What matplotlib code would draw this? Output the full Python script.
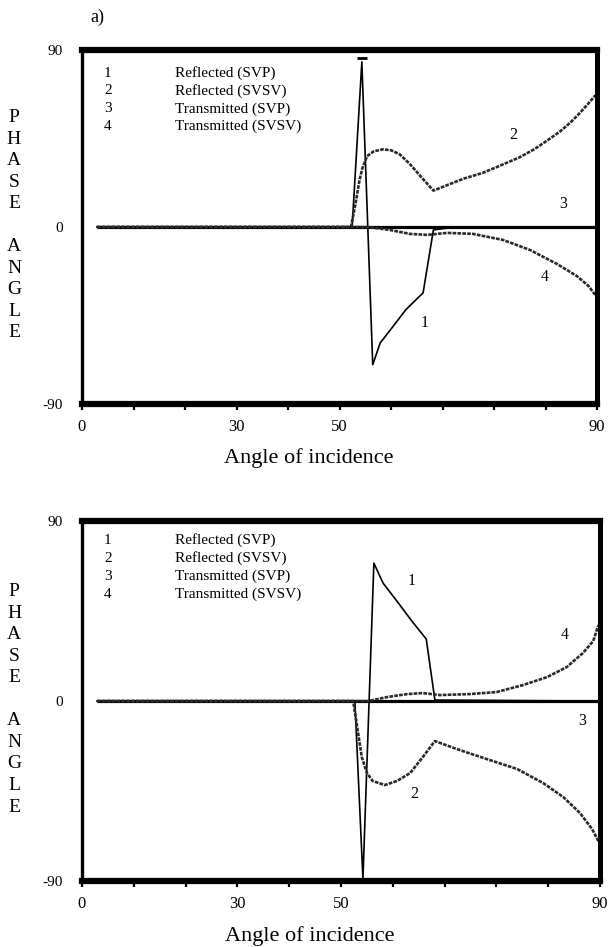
import numpy as np
import matplotlib
matplotlib.use('Agg')
import matplotlib.pyplot as plt

plt.rcParams['font.family'] = ['Liberation Serif', 'DejaVu Serif']

# angle of incidence (deg) vs phase angle (deg)
# --- panel a) ---
a_rsvp_x = [2.6, 47.2, 48.9, 50.8, 52.1, 54.5, 56.6, 59.6, 61.4, 64.0, 90.0]
a_rsvp_y = [0, 0, 84, -70, -59, -50, -42, -33.5, -1.5, -0.5, 0]

a_rsvsv_x = [2.6, 47.0, 47.8, 48.5, 49.0, 49.8, 51.0, 52.6, 54.0, 55.5, 57.3, 59.4, 61.4,
             64.0, 66.6, 70.0, 72.5, 76.5, 79.0, 81.3, 83.5, 85.3, 87.0, 88.4, 89.7]
a_rsvsv_y = [0, 0, 12, 24, 30, 36, 38.5, 39.5, 39, 37, 32, 25, 18.5,
             21.5, 24.5, 27.5, 30.5, 35.5, 39.5, 44, 48.5, 53, 58, 62.5, 67]

a_tsvp_x = [2.6, 90.0]
a_tsvp_y = [0, 0]

a_tsvsv_x = [2.6, 50.0, 53.8, 57.3, 60.3, 63.8, 68.3, 73.6, 78.3, 83.0, 86.5, 88.5, 89.8]
a_tsvsv_y = [0, 0, -1.5, -3.5, -4, -3, -3.5, -6.6, -11.7, -18.8, -25, -30, -35]

# --- lower panel ---
b_rsvp_x = [2.6, 47.4, 48.8, 50.7, 52.3, 54.7, 57.3, 59.8, 61.3, 90.0]
b_rsvp_y = [0, 0, -89, 69, 59, 50, 40, 31, 0.5, 0]

b_rsvsv_x = [2.6, 47.1, 47.8, 48.6, 49.5, 50.5, 52.6, 54.7, 57.0, 59.2, 61.3,
             65.1, 70.3, 75.6, 80.1, 83.6, 86.5, 88.6, 89.7]
b_rsvsv_y = [0, 0, -13, -28, -36, -40, -42, -40, -36, -28, -20,
             -24, -29, -34, -41, -48, -56, -64, -70]

b_tsvp_x = [2.6, 90.0]
b_tsvp_y = [0, 0]

b_tsvsv_x = [2.6, 49.7, 53.0, 56.5, 59.2, 62.2, 67.4, 72.0, 76.6, 80.8, 84.2, 87.0, 88.8, 89.7]
b_tsvsv_y = [0, 0, 2, 3.5, 4, 3, 3.5, 4.5, 8, 12, 17, 24, 30, 38]

legend_num = ['1', '2', '3', '4']
legend_txt = ['Reflected (SVP)', 'Reflected (SVSV)', 'Transmitted (SVP)', 'Transmitted (SVSV)']

# x tick labels as printed in the source figure
xtick_pos = [0, 9, 18, 27, 36, 45, 54, 63, 72, 81, 90]
xtick_txt = ['0', '', '', '30', '', '50', '', '', '', '', '90']

# curve numbers placed next to the curves (x, y)
a_marks = {'1': (59.8, -49), '2': (75.3, 47), '3': (84.1, 11.7), '4': (80.8, -25.4)}
b_marks = {'1': (57.3, 60), '2': (57.8, -46.7), '3': (86.9, -10), '4': (83.9, 32.8)}

dots = (0, (1.4, 0.45))


def setup_axes(ax, legend_top, ylab_x):
    ax.set_xlim(0, 90)
    ax.set_ylim(-90, 90)
    ax.set_yticks([-90, 0, 90])
    ax.set_yticklabels(['-90', '0', '90'])
    ax.tick_params(axis='y', length=0, pad=14, labelsize=11)
    ax.set_xticks(xtick_pos)
    ax.set_xticklabels(xtick_txt)
    ax.tick_params(axis='x', direction='out', length=4, width=1.6, pad=7, labelsize=12)
    ax.spines['top'].set_linewidth(4.5)
    ax.spines['bottom'].set_linewidth(4.5)
    ax.spines['right'].set_linewidth(3.6)
    ax.spines['left'].set_linewidth(2.4)
    ax.set_xlabel('Angle of incidence', fontsize=16)
    ax.xaxis.label.set_va('center')
    ax.xaxis.set_label_coords(0.44, -0.152)
    ax.text(ylab_x, 0.505, 'P\nH\nA\nS\nE\n\nA\nN\nG\nL\nE', transform=ax.transAxes,
            ha='center', va='center', fontsize=14, linespacing=1.35)
    for i in range(4):
        yy = legend_top - i * 0.0505
        ax.text(0.05, yy, legend_num[i], transform=ax.transAxes, ha='center', va='center', fontsize=11)
        ax.text(0.18, yy, legend_txt[i], transform=ax.transAxes, ha='left', va='center', fontsize=11)


def draw_panel(ax, r1x, r1y, r2x, r2y, t1x, t1y, t2x, t2y, marks):
    ax.plot(t1x, t1y, color='black', lw=2.3, solid_capstyle='butt')
    ax.plot(r1x, r1y, color='black', lw=1.2)
    ax.plot(r2x, r2y, color='#2a2a2a', lw=1.9, linestyle=dots)
    ax.plot(t2x, t2y, color='#2a2a2a', lw=1.9, linestyle=dots)
    for k, (mx, my) in marks.items():
        ax.text(mx, my, k, ha='center', va='center', fontsize=11.5)


fig = plt.figure(figsize=(6.11, 9.47), dpi=100)

ax1 = fig.add_axes([0.1342, 0.5734, 0.843, 0.3738])
setup_axes(ax1, 0.935, -0.132)
draw_panel(ax1, a_rsvp_x, a_rsvp_y, a_rsvsv_x, a_rsvsv_y, a_tsvp_x, a_tsvp_y,
           a_tsvsv_x, a_tsvsv_y, a_marks)
# little cap on the top of the spike
ax1.plot([a_rsvp_x[2]], [a_rsvp_y[2] + 2], marker='_', color='black', ms=7, mew=2)

ax2 = fig.add_axes([0.1342, 0.0697, 0.848, 0.380])
setup_axes(ax2, 0.947, -0.131)
draw_panel(ax2, b_rsvp_x, b_rsvp_y, b_rsvsv_x, b_rsvsv_y, b_tsvp_x, b_tsvp_y,
           b_tsvsv_x, b_tsvsv_y, b_marks)

fig.text(97 / 611, 1 - 17 / 947, 'a)', ha='center', va='center', fontsize=13)

plt.savefig('out.png', dpi=100)
